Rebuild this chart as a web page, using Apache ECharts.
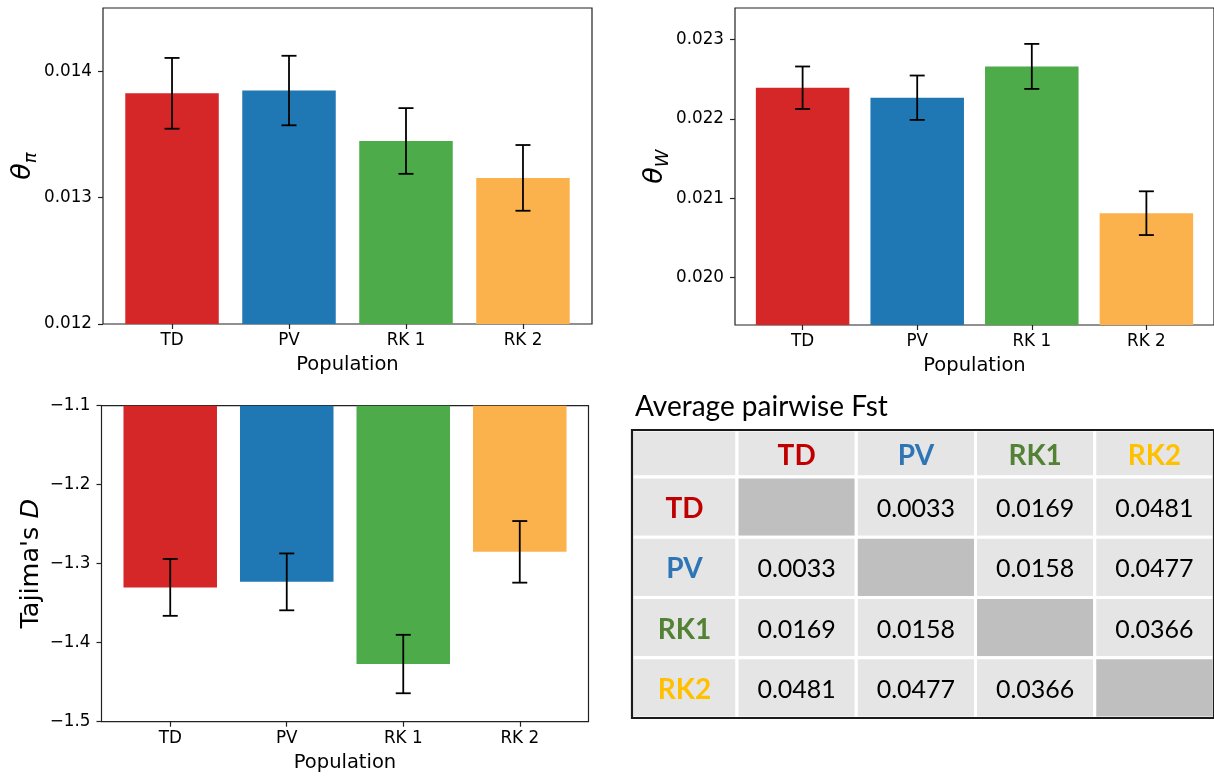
<!DOCTYPE html>
<html><head><meta charset="utf-8">
<script src="https://cdn.jsdelivr.net/npm/echarts@6/dist/echarts.min.js"></script>
<style>html,body{margin:0;padding:0;background:#fff}#c{width:1214px;height:778px}</style>
</head><body><div id="c"></div>
<script>
// ---- data ----
const populations = ['TD', 'PV', 'RK 1', 'RK 2'];
const barColors = ['#d62728', '#1f77b4', '#4dab4a', '#fbb24c'];
const thetaPi = [0.013825, 0.013847, 0.013448, 0.013156];
const thetaPiErr = [0.000280, 0.000275, 0.000260, 0.000260];
const thetaW = [0.022394, 0.022268, 0.022663, 0.020811];
const thetaWErr = [0.000268, 0.000280, 0.000284, 0.000276];
const tajimaD = [-1.330, -1.323, -1.427, -1.285];
const tajimaDErr = [0.036, 0.036, 0.037, 0.039];
const thetaPiTicks = [0.012, 0.013, 0.014];
const thetaWTicks = [0.020, 0.021, 0.022, 0.023];
const tajimaTicks = [-1.5, -1.4, -1.3, -1.2, -1.1];
const fstNames = ['TD', 'PV', 'RK1', 'RK2'];
const fstColors = ['#c00000', '#2e75b6', '#548235', '#ffc000'];
const fstMatrix = [
  [null, 0.0033, 0.0169, 0.0481],
  [0.0033, null, 0.0158, 0.0477],
  [0.0169, 0.0158, null, 0.0366],
  [0.0481, 0.0477, 0.0366, null]
];
const fstTitle = 'Average pairwise Fst';

// ---- helpers ----
const FONT = 'DejaVu Sans';
const popIdx = populations.map((_, i) => i);

function xAxisFor(gi) {
  return {
    type: 'value', gridIndex: gi, min: -0.59, max: 3.59,
    name: 'Population', nameLocation: 'middle', nameGap: 31,
    nameTextStyle: { fontFamily: FONT, fontSize: 19.5, color: '#000' },
    axisLine: { show: false, onZero: false }, splitLine: { show: false },
    axisTick: { show: true, length: 5, customValues: popIdx, lineStyle: { color: '#222', width: 1.2 } },
    axisLabel: { customValues: popIdx, formatter: v => populations[Math.round(v)],
      fontFamily: FONT, fontSize: 16.8, color: '#000', margin: 8 }
  };
}
function yAxisFor(gi, min, max, ticks, fmt, name, rich, gap) {
  return {
    type: 'value', gridIndex: gi, min: min, max: max,
    name: name, nameLocation: 'middle', nameGap: gap, nameRotate: 90,
    nameTextStyle: { fontFamily: FONT, fontSize: 25, color: '#000', rich: rich },
    axisLine: { show: false, onZero: false }, splitLine: { show: false },
    axisTick: { show: true, length: 5, customValues: ticks, lineStyle: { color: '#222', width: 1.2 } },
    axisLabel: { customValues: ticks, formatter: fmt, fontFamily: FONT, fontSize: 16.8, color: '#000', margin: 11 }
  };
}
function barSeries(gi, vals) {
  return {
    type: 'bar', xAxisIndex: gi, yAxisIndex: gi, barWidth: 93.5, clip: true,
    data: vals.map((v, i) => ({ value: [i, v], itemStyle: { color: barColors[i] } })),
    silent: true
  };
}
function errSeries(gi, vals, errs) {
  return {
    type: 'custom', xAxisIndex: gi, yAxisIndex: gi, z: 10, silent: true,
    encode: { x: 0, y: [1, 2] },
    data: vals.map((v, i) => [i, v - errs[i], v + errs[i]]),
    renderItem: (params, api) => {
      const lo = api.coord([api.value(0), api.value(1)]);
      const hi = api.coord([api.value(0), api.value(2)]);
      const c = 7.5, st = { stroke: '#000', lineWidth: 1.8 };
      return { type: 'group', children: [
        { type: 'line', shape: { x1: lo[0], y1: lo[1], x2: hi[0], y2: hi[1] }, style: st },
        { type: 'line', shape: { x1: lo[0] - c, y1: lo[1], x2: lo[0] + c, y2: lo[1] }, style: st },
        { type: 'line', shape: { x1: hi[0] - c, y1: hi[1], x2: hi[0] + c, y2: hi[1] }, style: st }
      ] };
    }
  };
}
const frame = { show: true, borderColor: '#222', borderWidth: 1.2, backgroundColor: 'transparent' };
const fmt3 = v => v.toFixed(3);
const fmtNeg = v => (v < 0 ? '\u2212' : '') + Math.abs(v).toFixed(1);

const thetaRich = {
  t: { fontFamily: FONT, fontStyle: 'italic', fontSize: 27, lineHeight: 34 },
  s: { fontFamily: FONT, fontStyle: 'italic', fontSize: 18, lineHeight: 22, verticalAlign: 'bottom' }
};
const tajRich = {
  n: { fontFamily: FONT, fontSize: 25.5 },
  i: { fontFamily: FONT, fontSize: 25.5, fontStyle: 'italic' }
};

// ---- table (custom cells on category grids) ----
function cellSeries(gi, data, opts) {
  return {
    type: 'custom', xAxisIndex: gi, yAxisIndex: gi, silent: true, data: data,
    renderItem: (params, api) => {
      const p = api.coord([api.value(0), api.value(1)]);
      const s = api.size([1, 1]);
      const item = data[params.dataIndex];
      return { type: 'group', children: [
        { type: 'rect', shape: { x: p[0] - s[0] / 2, y: p[1] - s[1] / 2, width: s[0], height: s[1] },
          style: { fill: item[3] ? '#bfbfbf' : '#e5e5e5', stroke: '#ffffff', lineWidth: 3 } },
        { type: 'text', style: { text: item[2], x: p[0], y: p[1] + 2, align: 'center', verticalAlign: 'middle',
          fill: item[4] || '#000', fontFamily: 'Lato', fontSize: opts.size, fontWeight: opts.weight } }
      ] };
    }
  };
}
function catAxes(gi, cats, isY) {
  return { type: 'category', gridIndex: gi, data: cats, inverse: !!isY, show: false };
}
const bodyData = [];
fstMatrix.forEach((row, r) => row.forEach((v, c) => {
  bodyData.push([c, r, v === null ? '' : v.toFixed(4), v === null, '#000']);
}));
const colHeadData = fstNames.map((n, i) => [i, 0, n, false, fstColors[i]]);
const rowHeadData = fstNames.map((n, i) => [0, i, n, false, fstColors[i]]);
const cornerData = [[0, 0, '', false, '#000']];

const option = {
  animation: false,
  backgroundColor: '#fff',
  title: { text: fstTitle, left: 635, top: 393, padding: 0,
    textStyle: { fontFamily: 'Lato', fontSize: 28, fontWeight: 'normal', color: '#000' } },
  grid: [
    Object.assign({ left: 103, top: 8, width: 489, height: 316 }, frame),
    Object.assign({ left: 735, top: 8, width: 488, height: 317 }, frame),
    Object.assign({ left: 101.5, top: 405.7, width: 487, height: 316 }, frame),
    { left: 632, top: 430, width: 105, height: 47 },
    { left: 737, top: 430, width: 480, height: 47 },
    { left: 632, top: 477, width: 105, height: 241 },
    { left: 737, top: 477, width: 480, height: 241 },
    { left: 632, top: 430, width: 590, height: 288, show: true, borderColor: '#1a1a1a', borderWidth: 2.2, z: 20 }
  ],
  xAxis: [
    xAxisFor(0), xAxisFor(1), xAxisFor(2),
    catAxes(3, ['']), catAxes(4, fstNames), catAxes(5, ['']), catAxes(6, fstNames),
    { type: 'value', gridIndex: 7, show: false }
  ],
  yAxis: [
    yAxisFor(0, 0.012, 0.0145, thetaPiTicks, fmt3, '{t|θ}{s|π}', thetaRich, 60),
    yAxisFor(1, 0.0194, 0.0234, thetaWTicks, fmt3, '{t|θ}{s|W}', thetaRich, 60),
    yAxisFor(2, -1.5, -1.1, tajimaTicks, fmtNeg, "{n|Tajima's }{i|D}", tajRich, 57),
    catAxes(3, [''], true), catAxes(4, [''], true), catAxes(5, fstNames, true), catAxes(6, fstNames, true),
    { type: 'value', gridIndex: 7, show: false }
  ],
  series: [
    barSeries(0, thetaPi), errSeries(0, thetaPi, thetaPiErr),
    barSeries(1, thetaW), errSeries(1, thetaW, thetaWErr),
    barSeries(2, tajimaD), errSeries(2, tajimaD, tajimaDErr),
    cellSeries(3, cornerData, { size: 28, weight: 'bold' }),
    cellSeries(4, colHeadData, { size: 28, weight: 'bold' }),
    cellSeries(5, rowHeadData, { size: 28, weight: 'bold' }),
    cellSeries(6, bodyData, { size: 25, weight: 'normal' })
  ]
};
const chart = echarts.init(document.getElementById('c'), null, { renderer: 'canvas' });
chart.setOption(option);
</script>
</body></html>
